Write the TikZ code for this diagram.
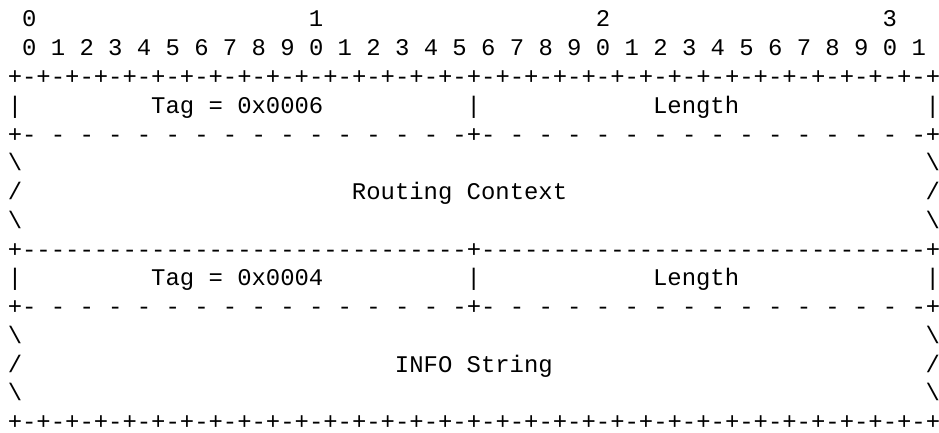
\documentclass[tikz,border=0pt]{standalone}
\usepackage{fontspec}
\setmonofont{Liberation Mono}
\usepackage{tikz}

\begin{document}
\begin{tikzpicture}[x=10.755pt, y=-21.5625pt,
		ascii/.style={font=\ttfamily\fontsize{17.93pt}{21.56pt}\selectfont, anchor=base west, inner sep=0pt, outer sep=0pt}]
		\useasboundingbox (-0.544,-0.939) rectangle (64.936,14.087);

		% Bit numbering
		\node[ascii] (dec0) at (1,0) {0};
		\node[ascii] (dec1) at (21,0) {1};
		\node[ascii] (dec2) at (41,0) {2};
		\node[ascii] (dec3) at (61,0) {3};
		\node[ascii] (bits) at (1,1) {0 1 2 3 4 5 6 7 8 9 0 1 2 3 4 5 6 7 8 9 0 1 2 3 4 5 6 7 8 9 0 1};

		% Routing Context parameter
		\node[ascii] (ruleTop) at (0,2) {+-+-+-+-+-+-+-+-+-+-+-+-+-+-+-+-+-+-+-+-+-+-+-+-+-+-+-+-+-+-+-+-+};
		\node[ascii] (barA1) at (0,3) {|};
		\node[ascii] (tagRC) at (10,3) {Tag = 0x0006};
		\node[ascii] (barA2) at (32,3) {|};
		\node[ascii] (lenRC) at (45,3) {Length};
		\node[ascii] (barA3) at (64,3) {|};
		\node[ascii] (dashRC) at (0,4) {+- - - - - - - - - - - - - - - -+- - - - - - - - - - - - - - - -+};
		\node[ascii] (edgeA1) at (0,5) {\textbackslash};
		\node[ascii] (edgeA2) at (64,5) {\textbackslash};
		\node[ascii] (edgeA3) at (0,6) {/};
		\node[ascii] (valRC) at (24,6) {Routing Context};
		\node[ascii] (edgeA4) at (64,6) {/};
		\node[ascii] (edgeA5) at (0,7) {\textbackslash};
		\node[ascii] (edgeA6) at (64,7) {\textbackslash};
		\node[ascii] (ruleMid) at (0,8) {+-------------------------------+-------------------------------+};

		% INFO String parameter
		\node[ascii] (barB1) at (0,9) {|};
		\node[ascii] (tagINFO) at (10,9) {Tag = 0x0004};
		\node[ascii] (barB2) at (32,9) {|};
		\node[ascii] (lenINFO) at (45,9) {Length};
		\node[ascii] (barB3) at (64,9) {|};
		\node[ascii] (dashINFO) at (0,10) {+- - - - - - - - - - - - - - - -+- - - - - - - - - - - - - - - -+};
		\node[ascii] (edgeB1) at (0,11) {\textbackslash};
		\node[ascii] (edgeB2) at (64,11) {\textbackslash};
		\node[ascii] (edgeB3) at (0,12) {/};
		\node[ascii] (valINFO) at (27,12) {INFO String};
		\node[ascii] (edgeB4) at (64,12) {/};
		\node[ascii] (edgeB5) at (0,13) {\textbackslash};
		\node[ascii] (edgeB6) at (64,13) {\textbackslash};
		\node[ascii] (ruleBot) at (0,14) {+-+-+-+-+-+-+-+-+-+-+-+-+-+-+-+-+-+-+-+-+-+-+-+-+-+-+-+-+-+-+-+-+};
	\end{tikzpicture}
\end{document}
